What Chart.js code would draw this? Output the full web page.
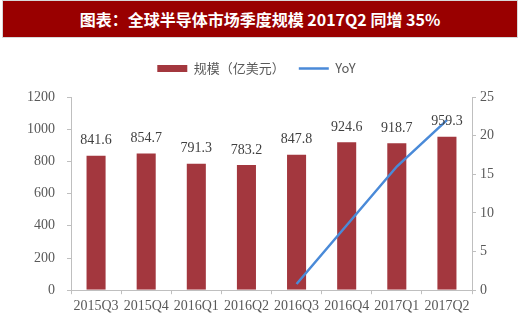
<!DOCTYPE html>
<html>
<head>
<meta charset="utf-8">
<script src="https://cdn.jsdelivr.net/npm/chart.js@4"></script>
<style>
  html, body { margin: 0; padding: 0; background: #fff; }
  #page { position: relative; width: 520px; height: 336px; overflow: hidden; }
  #title {
    position: absolute; left: 3px; top: 1px; width: 514px; height: 36px;
    background: #990000; color: #fff;
    font: bold 16px "Noto Sans CJK SC", sans-serif;
    line-height: 36px; text-align: center;
    box-shadow: 0 0 0 1px #d8d8d8;
  }
  #wrap { position: absolute; left: 0; top: 40px; width: 520px; height: 296px; }
</style>
</head>
<body>
<div id="page">
  <div id="title">图表：全球半导体市场季度规模 2017Q2 同增 35%</div>
  <div id="wrap"><canvas id="myChart"></canvas></div>
</div>
<script>
const quarters = ['2015Q3', '2015Q4', '2016Q1', '2016Q2', '2016Q3', '2016Q4', '2017Q1', '2017Q2'];
const scale = [841.6, 854.7, 791.3, 783.2, 847.8, 924.6, 918.7, 959.3];
const yoy = [null, null, null, null, 0.8, 8.4, 16.0, 22.0];

const gray = '#595959';
const axisColor = '#bfbfbf';
const serif = '"Liberation Serif", "Times New Roman", serif';

// value labels above each bar
const barLabels = {
  id: 'barLabels',
  afterDatasetsDraw(chart) {
    const ctx = chart.ctx;
    const meta = chart.getDatasetMeta(0);
    ctx.save();
    ctx.font = '14px ' + serif;
    ctx.fillStyle = '#404040';
    ctx.textAlign = 'center';
    ctx.textBaseline = 'bottom';
    meta.data.forEach((bar, i) => {
      ctx.fillText(scale[i].toFixed(1), bar.x, bar.y - 7);
    });
    ctx.restore();
  }
};

// extra gap under the legend
const legendGap = {
  id: 'legendGap',
  beforeInit(chart) {
    const fit = chart.legend.fit;
    chart.legend.fit = function () {
      fit.call(this);
      this.height += 12;
    };
  }
};

const data = {
  labels: quarters,
  datasets: [
    {
      type: 'bar',
      label: '规模（亿美元）',
      data: scale,
      yAxisID: 'y',
      backgroundColor: '#a3373e',
      borderColor: 'rgba(255,255,255,0.45)',
      borderWidth: 1,
      barPercentage: 0.42,
      categoryPercentage: 1.0,
      order: 2
    },
    {
      type: 'line',
      label: 'YoY',
      data: yoy,
      yAxisID: 'y1',
      borderColor: '#4a8ad8',
      backgroundColor: '#4a8ad8',
      borderWidth: 2.5,
      pointRadius: 0,
      tension: 0,
      order: 1
    }
  ]
};

const config = {
  data: data,
  options: {
    responsive: true,
    maintainAspectRatio: false,
    animation: false,
    layout: { padding: { top: 8, left: 15, right: 22, bottom: 17 } },
    plugins: {
      tooltip: { enabled: false },
      legend: {
        position: 'top',
        labels: {
          color: gray,
          font: { family: '"Noto Sans CJK SC", sans-serif', size: 13 },
          usePointStyle: true,
          pointStyleWidth: 30,
          boxHeight: 7,
          padding: 14,
          generateLabels(chart) {
            const items = Chart.defaults.plugins.legend.labels.generateLabels(chart);
            items.forEach(it => {
              if (it.datasetIndex === 0) {
                it.pointStyle = 'rect';
                it.fillStyle = '#a3373e';
                it.strokeStyle = '#a3373e';
                it.lineWidth = 0;
              } else {
                it.pointStyle = 'line';
                it.strokeStyle = '#4a8ad8';
                it.lineWidth = 2.5;
              }
            });
            return items.sort((a, b) => a.datasetIndex - b.datasetIndex);
          }
        }
      }
    },
    scales: {
      x: {
        grid: {
          display: true, drawOnChartArea: false, offset: true,
          tickLength: 4, color: axisColor
        },
        border: { color: axisColor },
        ticks: {
          color: gray, font: { family: serif, size: 14 }, padding: 4,
          maxRotation: 0, minRotation: 0, autoSkip: false
        }
      },
      y: {
        position: 'left',
        min: 0, max: 1200,
        grid: { drawOnChartArea: false, tickLength: 4, color: axisColor },
        border: { color: axisColor },
        ticks: {
          stepSize: 200, color: gray, font: { family: serif, size: 14 }, padding: 12,
          callback: v => String(v)
        }
      },
      y1: {
        position: 'right',
        min: 0, max: 25,
        grid: { drawOnChartArea: false, tickLength: 4, color: axisColor },
        border: { color: axisColor },
        ticks: { stepSize: 5, color: gray, font: { family: serif, size: 14 }, padding: 4 }
      }
    }
  },
  plugins: [barLabels, legendGap]
};

new Chart(document.getElementById('myChart'), config);
</script>
</body>
</html>
